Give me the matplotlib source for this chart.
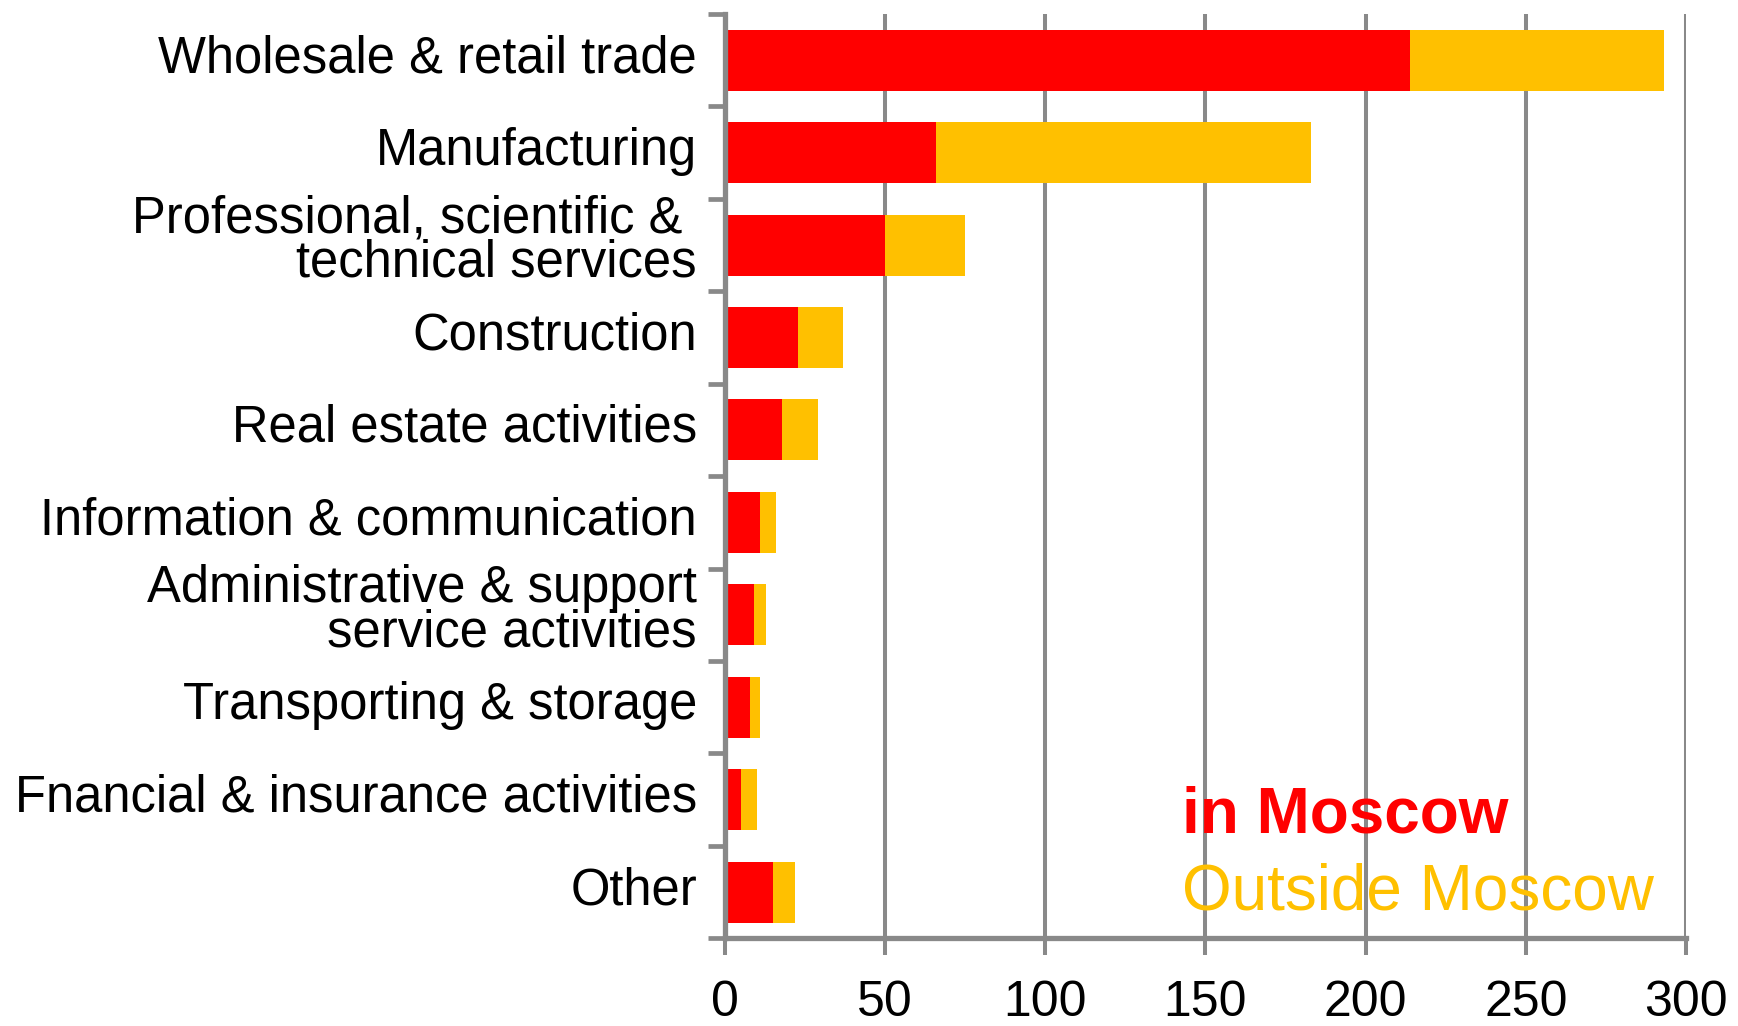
#!/usr/bin/env python3
"""Stacked horizontal bars: companies by sector, in Moscow vs outside Moscow."""
import numpy as np
import matplotlib
matplotlib.use("Agg")
import matplotlib.pyplot as plt
from matplotlib.ticker import FixedLocator, NullFormatter
from matplotlib.transforms import ScaledTranslation

sectors = [
    "Wholesale & retail trade",
    "Manufacturing",
    "Professional, scientific & \ntechnical services",
    "Construction",
    "Real estate activities",
    "Information & communication",
    "Administrative & support\nservice activities",
    "Transporting & storage",
    "Fnancial & insurance activities",
    "Other",
]
in_moscow = [214, 66, 50, 23, 18, 11, 9, 8, 5, 15]
outside_moscow = [79, 117, 25, 14, 11, 5, 4, 3, 5, 7]
x_ticks = [0, 50, 100, 150, 200, 250, 300]

RED = "#FF0000"
ORANGE = "#FFC000"
GRAY = "#898989"

plt.rcParams["font.family"] = ["Liberation Sans", "DejaVu Sans"]

fig = plt.figure(figsize=(17.38, 10.26), dpi=100)
ax = fig.add_axes([0.4170, 0.0855, 0.5531, 0.9009])

y = np.arange(len(sectors))
ax.barh(y, in_moscow, height=0.66, color=RED, zorder=3)
ax.barh(y, outside_moscow, left=in_moscow, height=0.66, color=ORANGE, zorder=3)

ax.set_xlim(0, 300)
ax.set_ylim(len(sectors) - 0.5, -0.5)
ax.set_xticks(x_ticks)
ax.set_xticklabels([str(t) for t in x_ticks])
ax.set_yticks(y)
ax.set_yticklabels(sectors, linespacing=0.87)
ax.yaxis.set_minor_locator(FixedLocator(np.arange(-0.5, len(sectors), 1.0)))
ax.yaxis.set_minor_formatter(NullFormatter())

ax.grid(axis="x", color=GRAY, linewidth=2.9, zorder=0)
for s in ("top", "right"):
    ax.spines[s].set_visible(False)
for s in ("left", "bottom"):
    ax.spines[s].set_color(GRAY)
    ax.spines[s].set_linewidth(3.8)
    ax.spines[s].set_zorder(4)

ax.tick_params(axis="y", which="major", length=0, pad=20, labelsize=36.5)
ax.tick_params(axis="y", which="minor", length=12, width=3.4, color=GRAY)
ax.tick_params(axis="x", length=12, width=2.9, color=GRAY, pad=18, labelsize=36)

# category labels sit a little above the bar centres in the original
lift = ScaledTranslation(0, 0.07, fig.dpi_scale_trans)
for lbl in ax.get_yticklabels():
    lbl.set_transform(lbl.get_transform() + lift)

ax.text(0.4757, 0.1139, "in Moscow", transform=ax.transAxes, color=RED,
        fontsize=46, fontweight="bold", va="baseline", ha="left", zorder=5)
ax.text(0.4757, 0.0308, "Outside Moscow", transform=ax.transAxes, color=ORANGE,
        fontsize=46, va="baseline", ha="left", zorder=5)

fig.savefig("out.png", dpi=100)
